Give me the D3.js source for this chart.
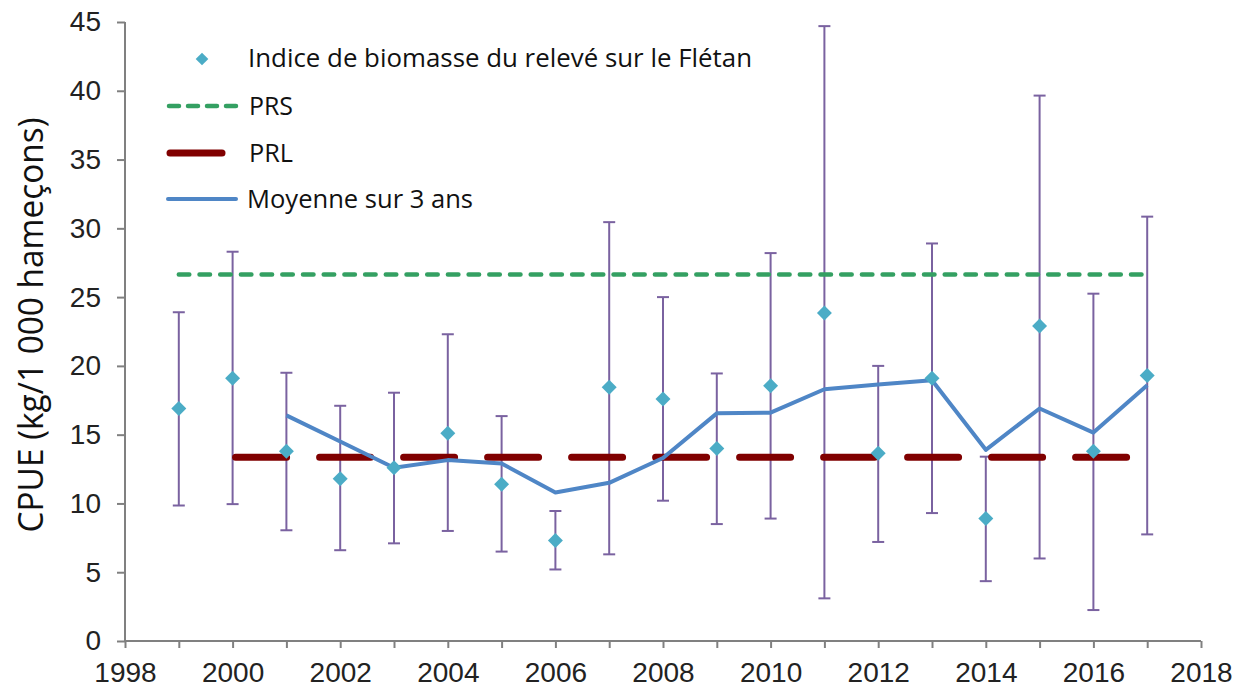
<!DOCTYPE html>
<html>
<head>
    <meta charset="utf-8">
    <title>CPUE Flétan</title>
    <script src="https://d3js.org/d3.v7.min.js"></script>
    <style>
        body { margin: 0; background: #fff; }
        .tick_label { font-family: "Liberation Sans", Arial, sans-serif; font-size: 28px; fill: #222; }
        .legend_text { font-family: "Open Sans", sans-serif; font-size: 26px; fill: #111; }
    </style>
</head>
<body>
<div id="svg_container"></div>
<script>
    // chart data
    const years = [1999, 2000, 2001, 2002, 2003, 2004, 2005, 2006, 2007, 2008,
                   2009, 2010, 2011, 2012, 2013, 2014, 2015, 2016, 2017];
    const biomass = [16.9, 19.1, 13.8, 11.8, 12.6, 15.1, 11.4, 7.3, 18.45, 17.6,
                     14.0, 18.55, 23.85, 13.65, 19.1, 8.9, 22.9, 13.8, 19.3];
    const err_high = [23.9, 28.3, 19.5, 17.1, 18.05, 22.3, 16.35, 9.45, 30.45, 25.0,
                      19.45, 28.2, 44.7, 20.0, 28.9, 13.4, 39.65, 25.25, 30.85];
    const err_low = [9.85, 9.95, 8.05, 6.6, 7.1, 8.0, 6.5, 5.2, 6.3, 10.2,
                     8.5, 8.9, 3.1, 7.2, 9.3, 4.35, 6.0, 2.25, 7.75];
    const avg_years = [2001, 2002, 2003, 2004, 2005, 2006, 2007, 2008, 2009,
                       2010, 2011, 2012, 2013, 2014, 2015, 2016, 2017];
    const avg_values = [16.4, 14.5, 12.6, 13.15, 12.9, 10.8, 11.5, 13.3, 16.55,
                        16.6, 18.3, 18.65, 18.95, 13.9, 16.9, 15.15, 18.6];
    const prs_value = 26.65;
    const prs_years = [1999, 2017];
    const prl_value = 13.35;
    const prl_years = [2000, 2017];
    const y_ticks = [0, 5, 10, 15, 20, 25, 30, 35, 40, 45];
    const x_label_ticks = [1998, 2000, 2002, 2004, 2006, 2008, 2010, 2012, 2014, 2016, 2018];
    const legend_labels = ["Indice de biomasse du relevé sur le Flétan", "PRS", "PRL", "Moyenne sur 3 ans"];

    const width = 1243;
    const height = 689;

    const c_bar = "#7a62a0";
    const c_point = "#4bacc6";
    const c_avg = "#4f86c6";
    const c_prl = "#800000";
    const c_prs = "#34a062";
    const c_axis = "#808080";

    const svg = d3.select("#svg_container")
        .append("svg")
        .attr("width", width)
        .attr("height", height);

    const x = d3.scaleLinear().domain([1998, 2018]).range([125, 1201]);
    const y = d3.scaleLinear().domain([0, 45]).range([641, 22]);

    // axes
    const y_axis = svg.append("g")
        .attr("transform", "translate(" + x(1998) + ",0)")
        .call(d3.axisLeft(y).tickValues(y_ticks).tickSize(8).tickPadding(16));
    const x_axis = svg.append("g")
        .attr("transform", "translate(0," + y(0) + ")")
        .call(d3.axisBottom(x).tickValues(d3.range(1998, 2019)).tickSize(7).tickPadding(14)
            .tickFormat(d => x_label_ticks.includes(d) ? d : ""));

    [y_axis, x_axis].forEach(g => {
        g.select(".domain").attr("stroke", c_axis).attr("stroke-width", 2);
        g.selectAll(".tick line").attr("stroke", c_axis).attr("stroke-width", 2);
        g.selectAll(".tick text").attr("class", "tick_label").attr("fill", null);
    });
    y_axis.select(".domain").attr("d", "M0," + y(0) + "V" + y(45));
    x_axis.select(".domain").attr("d", "M" + x(1998) + ",0H" + x(2018));

    // y title
    svg.append("text")
        .attr("transform", "translate(43," + 325 + ") rotate(-90)")
        .attr("text-anchor", "middle")
        .attr("textLength", 415)
        .attr("lengthAdjust", "spacingAndGlyphs")
        .style("font-family", "'Open Sans', sans-serif")
        .style("font-size", "35px")
        .style("fill", "#111")
        .text("CPUE (kg/1 000 hameçons)");

    // error bars
    const cap = 6;
    const bars = svg.append("g").attr("stroke", c_bar).attr("stroke-width", 2);
    years.forEach((yr, i) => {
        bars.append("line").attr("x1", x(yr)).attr("x2", x(yr))
            .attr("y1", y(err_low[i])).attr("y2", y(err_high[i]));
        bars.append("line").attr("x1", x(yr) - cap).attr("x2", x(yr) + cap)
            .attr("y1", y(err_low[i])).attr("y2", y(err_low[i]));
        bars.append("line").attr("x1", x(yr) - cap).attr("x2", x(yr) + cap)
            .attr("y1", y(err_high[i])).attr("y2", y(err_high[i]));
    });

    // reference lines
    svg.append("line")
        .attr("x1", x(prs_years[0])).attr("x2", x(prs_years[1]))
        .attr("y1", y(prs_value)).attr("y2", y(prs_value))
        .attr("stroke", c_prs).attr("stroke-width", 4.5)
        .attr("stroke-linecap", "round")
        .attr("stroke-dasharray", "10.5,10.2");

    svg.append("line")
        .attr("x1", x(prl_years[0]) + 3).attr("x2", x(prl_years[1]))
        .attr("y1", y(prl_value)).attr("y2", y(prl_value))
        .attr("stroke", c_prl).attr("stroke-width", 7)
        .attr("stroke-linecap", "round")
        .attr("stroke-dasharray", "51,33");

    // 3 year average
    const line = d3.line().x(d => x(d[0])).y(d => y(d[1]));
    svg.append("path")
        .datum(avg_years.map((yr, i) => [yr, avg_values[i]]))
        .attr("d", line)
        .attr("fill", "none")
        .attr("stroke", c_avg)
        .attr("stroke-width", 4)
        .attr("stroke-linejoin", "round");

    // points
    const diamond = d3.symbol().type(d3.symbolSquare).size(112);
    svg.selectAll(".pt")
        .data(years)
        .enter()
        .append("path")
        .attr("class", "pt")
        .attr("d", diamond)
        .attr("transform", (d, i) => "translate(" + x(d) + "," + y(biomass[i]) + ") rotate(45)")
        .attr("fill", c_point);

    // legend
    const lg = svg.append("g");
    lg.append("path")
        .attr("d", d3.symbol().type(d3.symbolSquare).size(80))
        .attr("transform", "translate(202,59) rotate(45)")
        .attr("fill", c_point);
    lg.append("line").attr("x1", 169).attr("x2", 236).attr("y1", 106).attr("y2", 106)
        .attr("stroke", c_prs).attr("stroke-width", 4.5).attr("stroke-linecap", "round")
        .attr("stroke-dasharray", "10,9");
    lg.append("line").attr("x1", 170).attr("x2", 222).attr("y1", 153).attr("y2", 153)
        .attr("stroke", c_prl).attr("stroke-width", 7).attr("stroke-linecap", "round");
    lg.append("line").attr("x1", 168).attr("x2", 236).attr("y1", 199).attr("y2", 199)
        .attr("stroke", c_avg).attr("stroke-width", 4).attr("stroke-linecap", "round");

    const text_pos = [[248, 67, 504], [249, 115, 44], [249, 162, 44], [247, 208, 226]];
    legend_labels.forEach((t, i) => {
        lg.append("text")
            .attr("class", "legend_text")
            .attr("x", text_pos[i][0])
            .attr("y", text_pos[i][1])
            .attr("textLength", text_pos[i][2])
            .attr("lengthAdjust", "spacingAndGlyphs")
            .text(t);
    });
</script>
</body>
</html>
